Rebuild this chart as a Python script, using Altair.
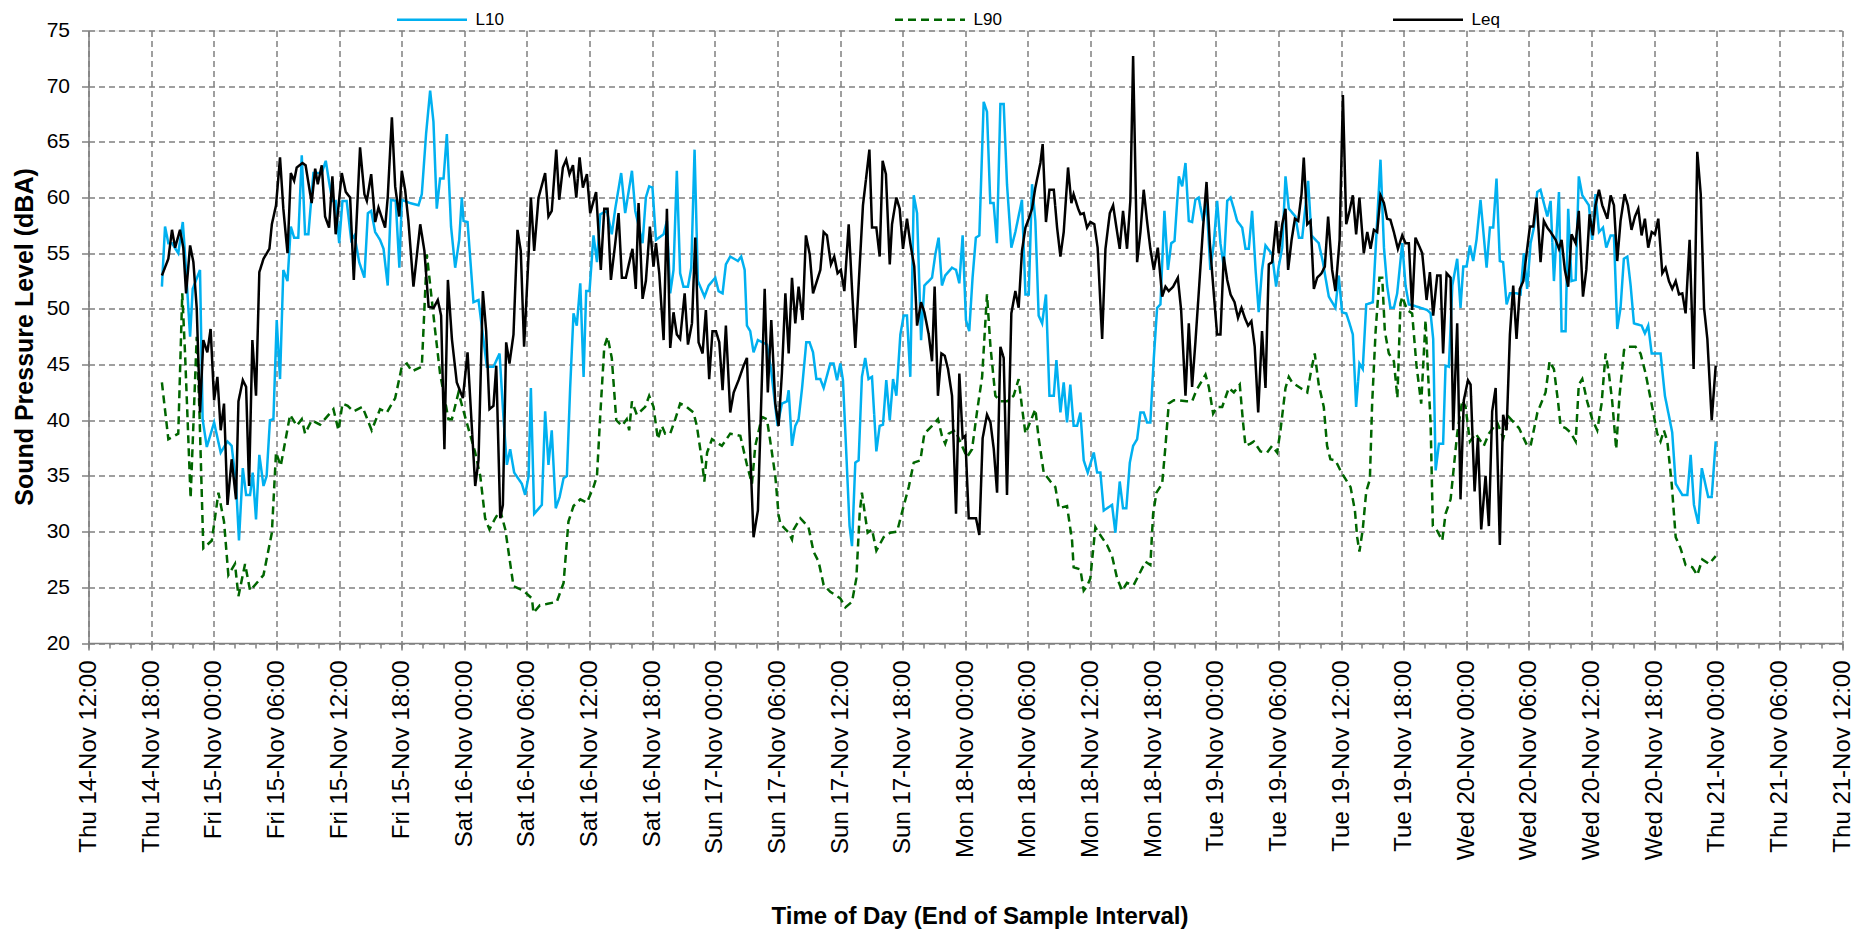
import altair as alt
import pandas as pd

START = "2019-11-14 12:00"
SERIES = ["L10", "L90", "Leq"]
COLORS = ["#00B0F0", "#006600", "#000000"]
DASHES = [[1, 0], [8, 5], [1, 0]]

# (hours after Thu 14-Nov 12:00, dBA)
L10 = [
    (7.04, 52.0), (7.33, 57.4), (7.65, 55.9), (8.0, 55.9), (8.6, 55.0), (9.03, 57.8), (9.25, 54.9), (9.73, 47.5), (9.98, 51.8), (10.69, 53.5),
    (10.94, 40.1), (11.33, 37.6), (12.03, 39.8), (12.67, 37.1), (13.31, 38.1), (13.72, 37.7), (14.14, 34.3), (14.42, 29.2), (14.78, 35.7), (15.1, 33.3),
    (15.48, 33.3), (15.73, 35.3), (16.05, 31.1), (16.37, 36.9), (16.76, 34.1), (17.07, 35.0), (17.39, 40.0), (17.71, 40.1), (18.03, 49.0), (18.35, 43.7),
    (18.67, 53.5), (19.06, 52.5), (19.38, 57.4), (19.7, 56.4), (20.1, 56.4), (20.43, 63.8), (20.75, 56.7), (21.07, 56.7), (21.55, 62.2), (22.35, 62.2),
    (22.73, 63.3), (23.05, 61.4), (23.37, 59.7), (23.69, 59.7), (24.01, 55.9), (24.33, 59.7), (24.74, 59.7), (25.16, 56.2), (25.48, 56.6), (25.93, 54.2),
    (26.44, 52.8), (26.76, 58.6), (27.08, 58.8), (27.46, 56.9), (27.94, 56.2), (28.26, 55.4), (28.67, 52.1), (28.99, 59.8), (29.44, 59.7), (29.79, 53.7),
    (30.02, 59.8), (30.81, 59.5), (31.62, 59.3), (31.94, 60.3), (32.35, 65.8), (32.73, 69.6), (33.05, 66.8), (33.37, 59.0), (33.69, 61.7), (34.01, 61.7),
    (34.33, 65.7), (34.74, 57.4), (35.13, 53.7), (35.51, 56.2), (35.77, 60.0), (35.93, 57.9), (36.31, 57.8), (36.89, 50.6), (37.37, 50.8), (37.68, 48.4),
    (38.16, 44.8), (38.8, 44.8), (39.38, 46.0), (39.77, 40.1), (40.08, 36.0), (40.4, 37.4), (40.79, 35.3), (41.52, 34.3), (41.84, 33.3), (42.16, 35.0),
    (42.38, 42.9), (42.7, 31.6), (43.43, 32.4), (43.75, 40.8), (44.07, 36.0), (44.39, 39.1), (44.77, 32.1), (45.13, 33.1), (45.51, 34.8), (45.83, 35.0),
    (46.15, 43.0), (46.47, 49.6), (46.78, 48.5), (47.11, 52.3), (47.43, 43.9), (47.68, 51.6), (48.0, 51.6), (48.39, 56.6), (48.71, 54.2), (49.03, 58.5),
    (49.67, 58.8), (50.14, 56.7), (50.46, 59.0), (51.04, 62.2), (51.42, 58.6), (52.06, 62.4), (52.38, 58.8), (53.08, 55.9), (53.4, 60.0), (53.72, 61.0),
    (54.04, 60.9), (54.37, 56.2), (55.1, 56.7), (55.42, 57.9), (55.73, 51.4), (56.05, 53.5), (56.37, 62.4), (56.69, 53.2), (57.0, 52.0), (57.43, 52.0),
    (57.75, 53.7), (58.06, 64.3), (58.38, 52.5), (59.02, 51.1), (59.41, 52.1), (60.05, 52.8), (60.37, 51.6), (60.75, 51.4), (61.07, 54.0), (61.49, 54.7),
    (62.22, 54.3), (62.54, 54.7), (62.86, 53.5), (63.08, 48.5), (63.4, 48.0), (63.72, 46.1), (64.13, 47.2), (65.0, 46.8), (65.4, 44.5), (66.02, 39.5),
    (66.44, 41.5), (66.92, 41.7), (67.08, 42.7), (67.4, 37.7), (67.72, 39.5), (68.04, 40.1), (68.36, 42.9), (68.77, 47.0), (69.09, 47.0), (69.41, 46.1),
    (69.73, 43.7), (70.11, 43.7), (70.43, 42.9), (71.07, 45.1), (71.39, 45.1), (71.71, 43.6), (72.03, 45.1), (72.29, 43.6), (72.6, 37.1), (72.92, 30.5),
    (73.15, 28.7), (73.47, 36.2), (73.78, 36.4), (74.1, 43.9), (74.42, 45.6), (74.74, 43.7), (75.06, 43.9), (75.48, 37.2), (75.8, 39.5), (76.12, 39.6),
    (76.44, 43.6), (76.76, 40.0), (77.08, 43.7), (77.4, 42.2), (77.78, 47.7), (78.1, 49.4), (78.42, 49.4), (78.74, 43.9), (79.06, 60.2), (79.38, 58.6),
    (79.76, 47.2), (80.08, 52.1), (80.82, 52.8), (81.13, 54.9), (81.45, 56.4), (81.77, 52.1), (82.09, 53.0), (82.73, 53.7), (83.11, 53.5), (83.43, 52.3),
    (83.75, 56.6), (84.07, 49.0), (84.38, 48.0), (84.7, 52.8), (85.02, 56.4), (85.35, 56.6), (85.76, 68.6), (86.08, 67.7), (86.4, 59.5), (86.72, 59.5),
    (87.04, 55.9), (87.36, 68.4), (87.68, 68.4), (88.0, 61.2), (88.42, 55.5), (88.8, 56.9), (89.44, 59.8), (89.76, 51.3), (90.08, 51.3), (90.4, 61.2),
    (90.72, 57.9), (91.04, 49.4), (91.36, 48.7), (91.74, 51.3), (92.06, 42.2), (92.48, 42.2), (92.73, 45.4), (93.12, 40.7), (93.44, 43.4), (93.75, 39.8),
    (94.07, 43.2), (94.39, 39.5), (94.71, 39.5), (95.03, 40.7), (95.35, 36.4), (95.73, 35.3), (96.31, 37.1), (96.63, 35.3), (96.95, 35.3), (97.27, 31.9),
    (97.59, 32.1), (98.07, 32.4), (98.39, 29.9), (98.8, 34.5), (99.12, 32.1), (99.44, 32.1), (99.76, 36.2), (100.08, 37.7), (100.46, 38.3), (100.78, 40.7),
    (101.1, 40.7), (101.42, 39.8), (101.74, 39.8), (102.06, 45.6), (102.38, 50.1), (102.7, 50.4), (103.09, 58.8), (103.41, 53.5), (103.73, 55.9), (104.05, 56.1),
    (104.46, 61.9), (104.78, 61.0), (105.1, 63.1), (105.42, 57.9), (105.73, 57.8), (106.05, 59.8), (106.37, 60.0), (106.79, 57.9), (107.11, 59.7), (107.49, 53.5),
    (107.81, 55.9), (108.13, 59.7), (108.45, 55.9), (108.77, 53.8), (109.1, 59.7), (109.41, 60.0), (109.73, 59.0), (110.05, 57.9), (110.53, 57.3), (110.85, 55.4),
    (111.17, 55.4), (111.49, 58.8), (111.81, 53.5), (112.12, 49.7), (112.44, 53.5), (112.76, 55.7), (113.4, 54.9), (113.78, 52.0), (114.04, 53.8), (114.36, 55.5),
    (114.68, 61.9), (115.0, 59.0), (115.64, 58.3), (115.96, 56.4), (116.28, 56.4), (116.85, 61.5), (117.17, 56.6), (117.87, 55.9), (118.26, 54.2), (118.51, 52.8),
    (118.83, 51.1), (119.47, 50.1), (119.79, 53.0), (120.1, 49.7), (120.5, 49.6), (120.81, 48.7), (121.13, 47.7), (121.45, 41.2), (121.77, 45.1), (122.09, 44.6),
    (122.41, 50.4), (123.05, 50.6), (123.37, 56.2), (123.79, 63.4), (124.11, 55.5), (124.42, 52.1), (124.74, 50.1), (125.06, 50.1), (125.38, 51.4), (125.86, 55.9),
    (126.18, 52.1), (126.5, 50.4), (127.3, 50.2), (128.26, 49.9), (128.58, 49.6), (128.84, 47.3), (129.06, 35.5), (129.38, 37.9), (129.79, 37.9), (130.02, 44.9),
    (130.34, 44.8), (130.66, 52.1), (131.14, 54.5), (131.45, 50.1), (131.71, 53.8), (132.03, 53.8), (132.35, 55.7), (132.67, 54.3), (132.99, 56.2), (133.37, 59.8),
    (133.95, 53.7), (134.27, 57.3), (134.58, 57.3), (134.9, 61.7), (135.22, 54.3), (135.54, 54.2), (135.86, 50.4), (136.18, 51.4), (136.82, 51.4), (137.2, 51.3),
    (137.52, 55.0), (137.84, 51.8), (138.16, 55.9), (138.48, 57.3), (138.8, 60.5), (139.12, 60.7), (139.44, 59.5), (139.76, 58.3), (140.08, 59.7), (140.4, 52.5),
    (140.88, 60.5), (141.13, 48.0), (141.52, 48.0), (141.77, 59.0), (142.09, 52.5), (142.48, 52.6), (142.79, 61.9), (143.11, 60.2), (143.75, 59.3), (144.07, 56.2),
    (144.39, 60.3), (144.71, 56.9), (145.1, 57.3), (145.42, 55.5), (145.83, 56.6), (146.15, 56.6), (146.47, 48.2), (146.79, 50.1), (147.1, 54.5), (147.43, 54.7),
    (147.75, 52.1), (148.07, 48.7), (148.8, 48.5), (149.12, 47.8), (149.44, 48.5), (149.76, 46.0), (150.62, 46.0), (151.04, 42.2), (151.48, 40.1), (151.74, 38.9),
    (152.06, 34.3), (152.7, 33.3), (153.18, 33.3), (153.5, 36.9), (153.82, 32.4), (154.24, 30.7), (154.56, 35.7), (155.19, 33.1), (155.51, 33.1), (155.9, 38.1),
]

L90 = [
    (7.04, 43.4), (7.65, 38.3), (8.6, 38.8), (8.99, 51.4), (9.25, 46.0), (9.79, 33.0), (10.37, 47.5), (10.62, 41.2), (11.0, 28.5), (11.81, 29.2),
    (12.45, 33.5), (12.99, 30.9), (13.4, 26.1), (14.04, 27.1), (14.36, 24.2), (15.0, 27.1), (15.48, 24.7), (16.76, 26.1), (17.56, 29.9), (17.97, 37.1),
    (18.42, 35.9), (19.31, 40.5), (19.95, 39.5), (20.43, 40.1), (20.75, 38.8), (21.39, 40.0), (22.19, 39.6), (22.83, 40.3), (23.47, 41.0), (23.95, 39.1),
    (24.33, 41.5), (24.83, 41.3), (25.38, 40.8), (26.25, 41.2), (27.14, 39.1), (27.94, 41.0), (28.58, 40.7), (29.38, 42.0), (30.02, 44.8), (30.5, 45.1),
    (30.98, 44.4), (31.93, 44.8), (32.41, 54.9), (33.21, 48.0), (33.69, 44.2), (34.49, 40.1), (34.81, 40.1), (35.45, 42.5), (36.09, 40.3), (37.05, 37.1),
    (37.53, 35.0), (38.0, 31.2), (38.42, 30.2), (38.96, 31.2), (39.45, 31.9), (39.93, 30.2), (40.72, 25.1), (41.68, 24.7), (42.48, 24.0), (42.64, 22.7),
    (43.25, 23.4), (43.89, 23.5), (44.87, 23.7), (45.51, 25.4), (45.99, 30.9), (46.47, 32.3), (47.11, 32.9), (47.75, 32.6), (48.39, 34.0), (48.71, 35.0),
    (49.03, 40.5), (49.41, 46.6), (49.73, 47.5), (50.14, 45.6), (50.56, 40.0), (51.1, 39.5), (51.57, 40.1), (51.8, 39.1), (52.06, 41.7), (52.54, 40.5),
    (53.34, 41.2), (53.72, 42.2), (54.14, 41.2), (54.55, 38.3), (54.93, 39.5), (55.25, 38.8), (55.73, 38.8), (56.21, 40.1), (56.69, 41.5), (57.17, 41.3),
    (57.97, 40.7), (58.29, 39.5), (58.77, 36.4), (59.0, 34.5), (59.26, 37.1), (59.73, 38.3), (60.69, 37.7), (61.49, 38.8), (62.45, 38.6), (63.08, 36.0),
    (63.56, 34.3), (63.88, 37.7), (64.52, 40.3), (65.0, 40.1), (65.41, 37.5), (65.8, 35.0), (66.12, 31.5), (66.28, 30.7), (67.08, 29.9), (67.4, 29.3),
    (67.56, 30.2), (68.2, 31.2), (68.99, 30.4), (69.47, 28.2), (69.95, 27.3), (70.43, 25.2), (71.07, 24.6), (71.71, 24.2), (72.03, 24.0), (72.51, 23.2),
    (73.15, 23.7), (73.56, 25.8), (73.88, 31.6), (74.1, 33.5), (74.36, 31.7), (74.65, 29.9), (75.06, 30.2), (75.48, 28.3), (76.18, 29.5), (76.82, 29.9),
    (77.46, 30.0), (78.1, 32.3), (78.58, 34.0), (79.06, 36.2), (79.7, 36.4), (80.08, 38.8), (80.82, 39.5), (81.39, 40.1), (81.77, 38.6), (82.09, 37.9),
    (82.41, 38.8), (83.05, 39.1), (83.69, 37.7), (84.17, 36.7), (84.65, 37.4), (85.13, 40.8), (85.61, 43.9), (86.09, 51.3), (86.41, 46.6), (86.89, 42.2),
    (87.36, 41.7), (88.0, 41.7), (88.63, 42.2), (89.12, 43.7), (89.44, 41.2), (89.76, 38.8), (90.33, 40.1), (90.72, 41.0), (91.04, 38.4), (91.52, 35.3),
    (92.16, 34.5), (92.64, 34.0), (92.96, 32.1), (93.75, 32.3), (94.23, 29.2), (94.39, 26.8), (95.03, 26.6), (95.35, 24.7), (95.67, 25.1), (95.99, 25.8),
    (96.47, 30.4), (96.79, 29.9), (97.59, 28.8), (98.07, 27.8), (98.55, 25.8), (99.03, 24.7), (99.5, 25.4), (100.14, 25.2), (100.78, 26.4), (101.26, 27.3),
    (101.74, 27.0), (102.0, 31.6), (102.32, 33.5), (102.86, 34.3), (103.18, 37.7), (103.5, 41.5), (103.98, 41.8), (104.46, 41.8), (105.2, 41.7), (105.73, 41.7),
    (106.15, 42.7), (107.01, 44.1), (107.33, 43.0), (107.75, 40.6), (108.13, 41.2), (108.61, 41.2), (109.25, 42.9), (109.73, 42.5), (110.3, 43.2), (110.62, 39.8),
    (110.85, 37.7), (111.33, 37.9), (111.65, 38.1), (112.28, 37.2), (112.92, 37.1), (113.4, 37.7), (113.88, 37.1), (114.2, 39.1), (114.68, 42.9), (115.0, 43.9),
    (115.32, 43.4), (116.12, 42.9), (116.76, 42.5), (117.17, 44.6), (117.49, 46.0), (117.87, 43.2), (118.35, 41.2), (118.67, 37.7), (118.99, 36.5), (119.47, 36.4),
    (120.05, 35.3), (120.91, 34.0), (121.33, 31.9), (121.55, 29.5), (121.77, 28.2), (122.09, 30.2), (122.41, 33.6), (122.76, 34.7), (122.99, 41.5), (123.31, 48.0),
    (123.69, 52.8), (123.95, 52.8), (124.2, 48.0), (124.59, 46.0), (125.06, 45.3), (125.4, 42.0), (125.7, 50.5), (125.86, 51.1), (126.33, 49.9), (126.82, 49.6),
    (127.24, 44.9), (127.68, 41.5), (128.1, 49.0), (128.32, 44.6), (128.58, 39.8), (128.8, 30.5), (129.15, 30.2), (129.7, 29.2), (130.02, 31.6), (130.5, 32.9),
    (131.14, 38.8), (131.61, 41.8), (131.93, 41.2), (132.35, 38.1), (132.9, 38.8), (133.69, 37.7), (134.17, 38.8), (134.97, 39.8), (135.55, 38.4), (136.09, 40.3),
    (137.05, 39.3), (137.85, 37.7), (138.17, 37.7), (138.81, 40.7), (139.6, 42.5), (139.98, 45.3), (140.4, 44.6), (140.82, 41.5), (141.04, 39.5), (141.52, 39.3),
    (142.0, 38.9), (142.48, 38.1), (142.79, 43.2), (143.11, 43.7), (143.59, 41.7), (144.07, 40.1), (144.55, 39.1), (144.97, 41.5), (145.35, 46.0), (145.67, 44.2),
    (145.99, 41.7), (146.37, 37.4), (146.69, 42.2), (147.11, 46.3), (147.43, 46.6), (148.22, 46.6), (148.7, 46.0), (149.18, 44.2), (149.82, 41.2), (150.3, 38.8),
    (150.62, 38.1), (150.94, 39.1), (151.26, 38.1), (151.68, 34.3), (152.06, 29.5), (152.54, 28.5), (153.02, 27.0), (153.66, 26.8), (154.14, 26.1), (154.62, 27.5),
    (155.26, 27.1), (155.9, 27.8),
]

LEQ = [
    (7.04, 53.0), (7.65, 54.5), (8.0, 57.1), (8.3, 55.5), (8.77, 57.1), (9.09, 55.5), (9.35, 51.4), (9.73, 55.7), (10.05, 54.2), (10.37, 50.1),
    (10.69, 40.7), (11.0, 47.2), (11.39, 46.1), (11.7, 48.2), (12.03, 41.8), (12.35, 43.9), (12.67, 39.1), (12.99, 41.5), (13.31, 32.4), (13.72, 36.5),
    (14.14, 32.9), (14.36, 41.7), (14.78, 43.6), (15.1, 43.0), (15.38, 34.1), (15.7, 47.2), (16.05, 42.2), (16.37, 53.3), (16.76, 54.5), (17.33, 55.4),
    (17.56, 57.6), (17.97, 59.3), (18.35, 63.6), (18.67, 59.0), (19.06, 55.0), (19.38, 62.2), (19.7, 61.5), (19.95, 62.7), (20.5, 63.1), (20.8, 62.9),
    (21.39, 59.5), (21.71, 62.6), (21.96, 61.2), (22.35, 62.9), (22.67, 58.3), (23.05, 57.3), (23.37, 61.9), (23.69, 56.7), (24.27, 62.2), (24.65, 60.5),
    (25.06, 60.0), (25.41, 52.6), (26.02, 64.5), (26.44, 60.3), (26.66, 59.7), (27.08, 62.1), (27.46, 57.8), (27.78, 59.1), (28.42, 57.3), (28.67, 60.0),
    (29.06, 67.2), (29.38, 61.0), (29.76, 58.3), (30.02, 62.4), (30.33, 60.7), (30.65, 57.9), (31.14, 52.0), (31.78, 57.6), (32.19, 55.2), (32.58, 50.2),
    (33.06, 50.1), (33.47, 50.8), (33.79, 49.4), (34.1, 37.4), (34.43, 52.6), (34.81, 47.3), (35.29, 43.4), (35.86, 42.0), (36.31, 46.1), (37.05, 34.1),
    (37.37, 36.4), (37.78, 51.6), (38.1, 48.0), (38.42, 41.0), (38.8, 41.3), (39.06, 44.9), (39.45, 31.2), (39.7, 32.4), (40.02, 47.0), (40.33, 45.1),
    (40.72, 47.7), (41.1, 57.1), (41.42, 55.2), (41.74, 46.6), (42.16, 54.9), (42.38, 60.0), (42.7, 55.2), (43.11, 60.0), (43.75, 62.2), (44.07, 58.3),
    (44.39, 58.8), (44.81, 64.3), (45.1, 59.8), (45.45, 62.7), (45.77, 63.4), (46.09, 62.1), (46.41, 62.9), (46.73, 60.0), (47.05, 63.6), (47.37, 60.9),
    (47.75, 62.1), (48.07, 58.6), (48.64, 60.5), (49.09, 53.5), (49.41, 59.0), (49.73, 59.0), (50.05, 52.6), (50.46, 55.9), (50.78, 58.6), (51.1, 52.8),
    (51.49, 52.8), (51.81, 54.2), (52.12, 55.4), (52.44, 51.8), (52.7, 59.5), (53.08, 50.9), (53.4, 52.5), (53.79, 57.4), (54.14, 53.8), (54.37, 55.9),
    (54.68, 53.2), (55.1, 47.2), (55.42, 59.0), (55.73, 46.5), (56.05, 49.7), (56.37, 47.7), (56.69, 47.3), (57.11, 51.4), (57.43, 46.8), (57.81, 48.7),
    (58.13, 56.4), (58.45, 47.0), (58.83, 46.0), (59.15, 49.9), (59.47, 43.7), (59.79, 48.0), (60.11, 48.0), (60.43, 47.0), (60.75, 42.7), (61.07, 48.5),
    (61.49, 40.7), (61.81, 42.5), (62.29, 43.6), (62.76, 44.9), (63.08, 45.6), (63.4, 37.1), (63.72, 29.5), (64.13, 31.9), (64.78, 51.8), (65.09, 42.5),
    (65.41, 49.0), (65.8, 41.5), (66.12, 39.5), (66.44, 44.2), (66.76, 51.4), (67.08, 46.0), (67.4, 52.8), (67.72, 48.7), (68.04, 52.0), (68.42, 49.0),
    (68.74, 56.6), (69.1, 54.9), (69.41, 51.4), (69.79, 52.5), (70.11, 53.5), (70.43, 56.9), (70.75, 56.6), (71.13, 54.0), (71.45, 54.7), (71.77, 53.2),
    (72.09, 53.5), (72.41, 51.6), (72.83, 57.6), (73.15, 51.8), (73.47, 46.5), (73.78, 52.1), (74.2, 59.3), (74.81, 64.3), (75.06, 57.3), (75.48, 57.3),
    (75.8, 54.7), (76.09, 63.3), (76.4, 62.1), (76.76, 54.0), (76.98, 57.6), (77.4, 60.0), (77.72, 59.0), (78.04, 55.4), (78.42, 58.1), (78.74, 55.9),
    (79.12, 53.8), (79.38, 48.5), (79.76, 50.6), (80.08, 49.7), (80.5, 47.7), (80.82, 45.3), (81.07, 52.0), (81.39, 42.2), (81.71, 46.0), (82.03, 45.8),
    (82.35, 44.6), (82.73, 42.2), (83.11, 31.6), (83.43, 44.2), (83.75, 38.4), (84.0, 38.6), (84.33, 31.2), (85.03, 31.2), (85.35, 29.7), (85.67, 38.4),
    (86.09, 40.5), (86.41, 39.8), (86.73, 37.4), (87.05, 33.5), (87.37, 46.6), (87.68, 45.6), (88.0, 33.3), (88.42, 49.6), (88.8, 51.6), (89.12, 50.1),
    (89.44, 55.2), (89.76, 57.3), (90.08, 58.1), (90.4, 59.0), (90.72, 60.9), (91.2, 63.1), (91.42, 64.8), (91.74, 57.8), (92.06, 60.7), (92.48, 60.7),
    (92.8, 57.3), (93.12, 54.7), (93.44, 56.9), (93.85, 62.7), (94.17, 59.5), (94.39, 60.3), (94.81, 59.0), (95.03, 58.5), (95.35, 58.6), (95.67, 57.3),
    (95.99, 57.8), (96.37, 57.6), (96.69, 55.5), (97.11, 47.3), (97.43, 55.4), (97.85, 58.6), (98.16, 59.3), (98.55, 56.9), (98.8, 55.4), (99.12, 58.8),
    (99.5, 55.4), (99.82, 59.7), (100.08, 72.7), (100.46, 54.2), (100.78, 56.9), (101.1, 60.7), (101.42, 57.9), (101.74, 55.4), (102.06, 53.5), (102.45, 55.5),
    (102.86, 51.1), (103.18, 52.0), (103.5, 51.6), (103.92, 52.0), (104.36, 52.8), (104.68, 49.9), (105.1, 42.2), (105.42, 48.7), (105.73, 43.0), (106.05, 47.0),
    (106.37, 51.4), (106.79, 57.3), (107.11, 61.4), (107.43, 55.9), (107.81, 51.3), (108.13, 47.7), (108.45, 47.7), (108.77, 54.7), (109.1, 52.6), (109.41, 51.3),
    (109.8, 50.6), (110.14, 49.2), (110.46, 50.1), (110.78, 49.2), (111.1, 48.5), (111.42, 48.9), (111.74, 46.6), (112.06, 40.7), (112.44, 48.0), (112.76, 42.9),
    (113.08, 54.0), (113.4, 54.2), (113.78, 57.9), (114.04, 55.0), (114.36, 57.6), (114.68, 59.0), (114.94, 53.5), (115.26, 56.2), (115.58, 58.1), (115.9, 57.9),
    (116.21, 60.3), (116.44, 63.6), (116.76, 57.6), (117.08, 57.9), (117.4, 51.8), (117.72, 52.8), (118.13, 53.2), (118.45, 53.8), (118.77, 58.3), (119.15, 53.5),
    (119.47, 51.6), (119.86, 56.2), (120.18, 69.2), (120.5, 57.6), (120.81, 58.8), (121.13, 60.2), (121.45, 56.7), (121.77, 60.0), (122.19, 55.0), (122.51, 56.9),
    (122.83, 55.4), (123.15, 57.1), (123.47, 56.9), (123.79, 60.2), (124.11, 59.5), (124.42, 58.1), (124.74, 58.0), (125.06, 56.9), (125.45, 55.4), (125.86, 56.6),
    (126.18, 55.9), (126.5, 55.9), (126.82, 49.9), (127.14, 56.4), (127.46, 55.7), (127.78, 55.0), (128.2, 50.8), (128.52, 53.3), (128.84, 49.4), (129.22, 53.0),
    (129.54, 53.0), (129.79, 46.0), (130.11, 53.2), (130.5, 52.8), (130.75, 39.1), (131.14, 48.7), (131.45, 32.9), (131.77, 41.8), (132.16, 43.6), (132.42, 43.2),
    (132.8, 33.6), (133.12, 38.4), (133.43, 30.2), (133.85, 35.0), (134.17, 30.5), (134.49, 40.8), (134.81, 42.9), (135.22, 28.8), (135.54, 40.5), (135.86, 39.1),
    (136.18, 47.7), (136.5, 52.1), (136.82, 47.3), (137.14, 51.8), (137.46, 52.5), (137.78, 55.0), (138.1, 57.4), (138.42, 57.4), (138.73, 60.0), (139.12, 54.2),
    (139.44, 57.9), (139.76, 57.3), (140.08, 56.9), (140.56, 56.2), (140.88, 55.4), (141.13, 56.2), (141.45, 53.5), (141.77, 52.0), (142.09, 56.7), (142.48, 55.9),
    (142.79, 58.8), (143.18, 51.1), (143.5, 53.5), (143.82, 58.5), (144.14, 56.6), (144.39, 59.3), (144.71, 60.7), (145.03, 59.3), (145.51, 58.1), (145.83, 60.2),
    (146.15, 59.3), (146.47, 54.3), (146.79, 57.9), (147.17, 60.3), (147.49, 59.3), (147.84, 57.1), (148.16, 58.3), (148.48, 59.0), (148.8, 56.6), (149.12, 58.1),
    (149.44, 55.5), (149.76, 56.9), (150.08, 56.7), (150.4, 58.1), (150.78, 53.2), (151.1, 53.7), (151.42, 52.5), (151.74, 51.8), (152.06, 52.5), (152.38, 51.3),
    (152.7, 51.4), (153.02, 49.6), (153.4, 56.2), (153.79, 44.6), (154.14, 64.1), (154.46, 60.3), (154.78, 50.1), (155.1, 47.3), (155.51, 40.0), (155.9, 44.9),
]

Y_TICKS = list(range(20, 80, 5))
FONT = "Liberation Sans"

start = pd.Timestamp(START)
rows = []
for name, pts in (("L10", L10), ("L90", L90), ("Leq", LEQ)):
    for h, v in pts:
        t = start + pd.Timedelta(minutes=round(h * 60))
        rows.append({"series": name, "time": t.strftime("%Y-%m-%dT%H:%M:%S"), "level": v})
df = pd.DataFrame(rows)


def dt(ts):
    return alt.DateTime(year=ts.year, month=ts.month, date=ts.day, hours=ts.hour)


end = start + pd.Timedelta(days=7)
MAJOR = [dt(t) for t in pd.date_range(start, end, freq="6h")]
MINOR = [dt(t) for t in pd.date_range(start, end, freq="2h")]

x_scale = alt.Scale(domain=[dt(start), dt(end)])
y_scale = alt.Scale(domain=[20, 75], nice=False, zero=False)

legend = alt.Legend(
    title=None, orient="none", direction="horizontal", legendX=307, legendY=-47.5,
    symbolType="stroke", symbolSize=4900, symbolStrokeWidth=2.5, labelFontSize=17,
    labelFont=FONT, labelColor="#000000", labelOffset=7, columnPadding=385, padding=0,
)

y_axis = alt.Axis(
    values=Y_TICKS, labelFontSize=21, labelFont=FONT, labelColor="#000000",
    labelPadding=12, tickSize=7, tickColor="#808080", tickWidth=1.5,
    domainColor="#808080", domainWidth=1.5,
    grid=True, gridColor="#808080", gridDash=[6, 4], gridWidth=1.5,
    title="Sound Pressure Level (dBA)", titleFont=FONT, titleFontSize=25,
    titleFontWeight="bold", titleColor="#000000", titleX=-64, titleY=306,
    titleAngle=270, titleAlign="center", titleBaseline="middle",
)

lines = alt.Chart(df).mark_line(strokeWidth=2.5).encode(
    x=alt.X("time:T", scale=x_scale, axis=alt.Axis(
        orient="bottom", format="%a %d-%b %H:%M", values=MAJOR,
        labelAngle=-90, labelFontSize=24, labelFont=FONT, labelColor="#000000",
        labelPadding=10, labelOverlap=False, labelFlush=False, labelBound=False, labelLimit=0,
        tickSize=7, tickColor="#808080", tickWidth=1.5,
        domainColor="#808080", domainWidth=1.5,
        grid=True, gridColor="#808080", gridDash=[6, 4], gridWidth=1.5,
        title="Time of Day (End of Sample Interval)", titleFont=FONT, titleFontSize=24,
        titleFontWeight="bold", titleColor="#000000", titleX=891, titleY=273,
        titleAlign="center", titleBaseline="middle",
    )),
    y=alt.Y("level:Q", scale=y_scale, axis=y_axis),
    color=alt.Color("series:N", scale=alt.Scale(domain=SERIES, range=COLORS), legend=legend),
    strokeDash=alt.StrokeDash("series:N", scale=alt.Scale(domain=SERIES, range=DASHES), legend=legend),
)

minor = alt.Chart(df).mark_line(opacity=0).encode(
    x=alt.X("time:T", scale=x_scale, axis=alt.Axis(
        orient="bottom", values=MINOR, labels=False, grid=False, domain=False,
        tickSize=5, tickColor="#808080", tickWidth=1.5, title=None,
    )),
    y=alt.Y("level:Q", scale=y_scale, axis=y_axis),
    detail="series:N",
)

chart = alt.layer(lines, minor).resolve_scale(x="independent").resolve_axis(x="independent").properties(
    width=1753.5, height=612.5,
    autosize=alt.AutoSizeParams(type="none"),
    padding={"left": 80.5, "top": 22.5, "right": 15, "bottom": 287},
).configure_view(stroke="#000000", strokeWidth=1.5).configure(background="white")

chart.save("out.html", embed_options={"renderer": "svg", "actions": False})
